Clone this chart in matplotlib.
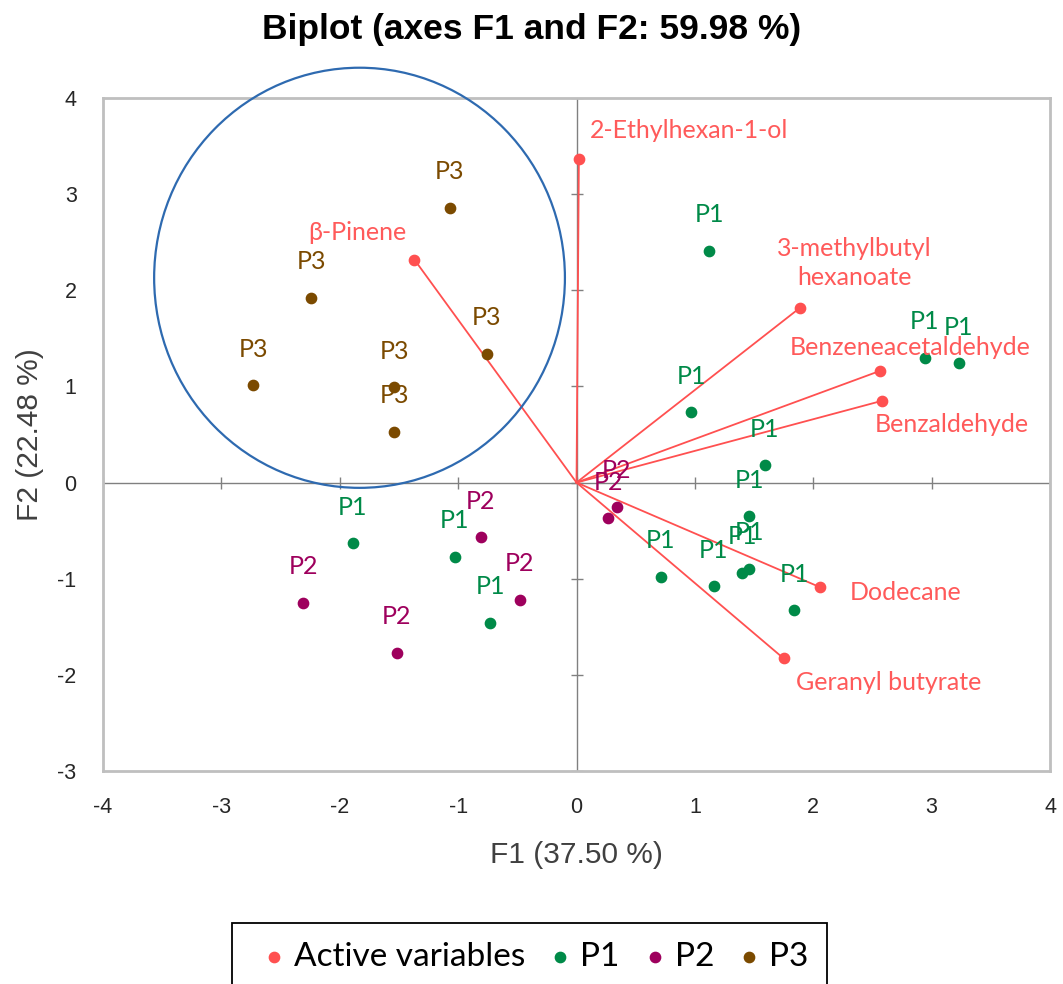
import matplotlib.pyplot as plt
from matplotlib.patches import Ellipse, Rectangle
import numpy as np

plt.rcParams['axes.unicode_minus'] = False

# active variables (loadings scaled onto the biplot)
var_names = ['2-Ethylhexan-1-ol', 'β-Pinene', '3-methylbutyl\nhexanoate',
             'Benzeneacetaldehyde', 'Benzaldehyde', 'Dodecane', 'Geranyl butyrate']
var_x = [0.02, -1.37, 1.89, 2.56, 2.58, 2.06, 1.75]
var_y = [3.37, 2.32, 1.82, 1.16, 0.85, -1.09, -1.83]

# observations
p1_x = [1.12, 2.94, 3.23, 0.97, 1.59, 1.46, 0.71, 1.16, 1.40, 1.46, 1.84, -1.89, -1.03, -0.73]
p1_y = [2.41, 1.30, 1.24, 0.73, 0.18, -0.35, -0.98, -1.08, -0.94, -0.90, -1.33, -0.63, -0.77, -1.46]
p2_x = [-2.31, -1.52, -0.81, -0.48, 0.27, 0.34]
p2_y = [-1.25, -1.77, -0.57, -1.22, -0.37, -0.25]
p3_x = [-1.07, -2.24, -2.73, -1.54, -1.54, -0.76]
p3_y = [2.86, 1.92, 1.01, 0.99, 0.53, 1.34]

xticks = [-4, -3, -2, -1, 0, 1, 2, 3, 4]
yticks = [-3, -2, -1, 0, 1, 2, 3, 4]

c_var = '#FF5050'
c_var_txt = '#FF5A5A'
c_p1 = '#008A48'
c_p2 = '#9E005D'
c_p3 = '#7B4A00'

lab_font = ['Lato', 'DejaVu Sans']
ax_font = ['Liberation Sans', 'DejaVu Sans']

fig = plt.figure(figsize=(10.63, 9.84), dpi=100)
ax = fig.add_axes([0.0969, 0.2165, 0.8909, 0.6839])

ax.axhline(0, color='#808080', lw=1, zorder=1)
ax.axvline(0, color='#808080', lw=1, zorder=1)
ax.plot(xticks, np.zeros(len(xticks)), ls='none', marker='|', ms=8, color='#808080', zorder=1)
ax.plot(np.zeros(len(yticks)), yticks, ls='none', marker='_', ms=8, color='#808080', zorder=1)

for x, y in zip(var_x, var_y):
    ax.plot([0, x], [0, y], color=c_var, lw=1.3, zorder=2)
ax.scatter(var_x, var_y, s=55, color=c_var, zorder=3, label='Active variables')
ax.scatter(p1_x, p1_y, s=55, color=c_p1, zorder=3, label='P1')
ax.scatter(p2_x, p2_y, s=55, color=c_p2, zorder=3, label='P2')
ax.scatter(p3_x, p3_y, s=55, color=c_p3, zorder=3, label='P3')

# variable labels: offset in points and alignment
offsets = [(8, 20, 'left'), (-6, 19.5, 'right'), (39, 32, 'center'),
           (22, 17, 'center'), (-5, -17, 'left'), (21, -4, 'left'), (9, -17, 'left')]
for name, x, y, (dx, dy, ha) in zip(var_names, var_x, var_y, offsets):
    ax.annotate(name, (x, y), xytext=(dx, dy), textcoords='offset points',
                ha=ha, va='center', color=c_var_txt, fontsize=18, family=lab_font,
                linespacing=1.3)

for xs, ys, lab, col in [(p1_x, p1_y, 'P1', c_p1), (p2_x, p2_y, 'P2', c_p2), (p3_x, p3_y, 'P3', c_p3)]:
    for x, y in zip(xs, ys):
        ax.annotate(lab, (x, y), xytext=(0, 26), textcoords='offset points',
                    ha='center', va='center', color=col, fontsize=18, family=lab_font)

ax.add_patch(Ellipse((-1.833, 2.13), 3.47, 4.37, fill=False, ec='#2E6AB0', lw=1.6,
                     zorder=4, clip_on=False))

ax.set_xlim(-4, 4)
ax.set_ylim(-3, 4)
ax.set_xticks(xticks)
ax.set_yticks(yticks)
ax.tick_params(length=0, labelsize=15.5, labelcolor='#262626')
ax.tick_params(axis='x', pad=19)
ax.tick_params(axis='y', pad=19)
for t in ax.get_xticklabels() + ax.get_yticklabels():
    t.set_family(ax_font)
for s in ax.spines.values():
    s.set_color('#BFBFBF')
    s.set_linewidth(2)

ax.set_xlabel('F1 (37.50 %)', fontsize=21.5, family=ax_font, color='#404040', va='center')
ax.set_ylabel('F2 (22.48 %)', fontsize=21.5, family=ax_font, color='#404040', va='center')
ax.xaxis.set_label_coords(0.5, -0.125)
ax.yaxis.set_label_coords(-0.077, 0.5)
fig.text(0.5, (984 - 30) / 984, 'Biplot (axes F1 and F2: 59.98 %)', fontsize=25.5,
         fontweight='bold', family=ax_font, ha='center', va='center')

leg = fig.legend(loc='center left', bbox_to_anchor=(264 / 1063, 27 / 984), ncol=4,
                 frameon=False, prop={'family': lab_font, 'size': 24}, borderpad=0,
                 borderaxespad=0, handlelength=0.6, handletextpad=0.3,
                 columnspacing=0.75, markerscale=1.0)
fig.add_artist(Rectangle((232 / 1063, -0.02), 595 / 1063, 61 / 984 + 0.02,
                         transform=fig.transFigure, fill=False, ec='black', lw=1.3))

fig.savefig('out.png', dpi=100)
